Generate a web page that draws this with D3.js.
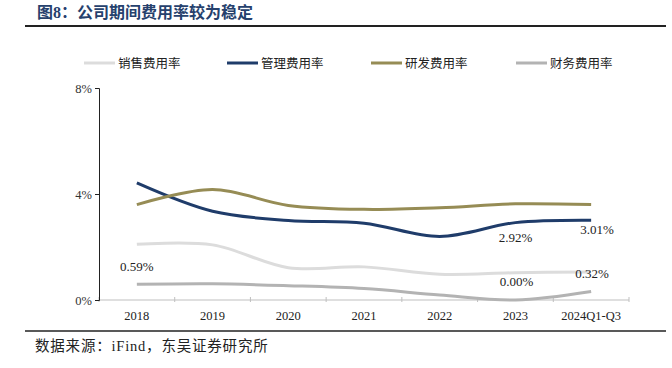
<!DOCTYPE html>
<html>
<head>
<meta charset="utf-8">
<script src="https://cdn.jsdelivr.net/npm/d3@7"></script>
<style>
  body { margin: 0; background: #fff; }
  svg { display: block; }
  text { font-family: "Liberation Serif", "Noto Sans CJK SC", serif; }
</style>
</head>
<body>
<script>
// categories and series (percent)
var years = ["2018", "2019", "2020", "2021", "2022", "2023", "2024Q1-Q3"];
var sales   = [2.10, 2.08, 1.22, 1.25, 0.97, 1.03, 1.06];
var admin   = [4.42, 3.35, 3.00, 2.90, 2.40, 2.92, 3.01];
var rnd     = [3.60, 4.17, 3.57, 3.42, 3.48, 3.63, 3.60];
var finance = [0.59, 0.61, 0.54, 0.43, 0.19, 0.00, 0.32];
var seriesNames = ["销售费用率", "管理费用率", "研发费用率", "财务费用率"];
var yTicks = [0, 4, 8];

var w = 672, h = 368;
var colors = ["#dcdcdc", "#1f3c6a", "#968c55", "#b3b3b3"];

var svg = d3.select("body").append("svg")
  .attr("width", w)
  .attr("height", h);

// title + rules
svg.append("text")
  .attr("x", 37).attr("y", 18)
  .attr("font-size", 16).attr("font-weight", "bold")
  .attr("fill", "#26416d")
  .text("图8：公司期间费用率较为稳定");
svg.append("line")
  .attr("x1", 25).attr("x2", 666).attr("y1", 26).attr("y2", 26)
  .attr("stroke", "#222").attr("stroke-width", 2);
svg.append("line")
  .attr("x1", 25).attr("x2", 666).attr("y1", 331).attr("y2", 331)
  .attr("stroke", "#222").attr("stroke-width", 1.5);
svg.append("text")
  .attr("x", 35).attr("y", 351)
  .attr("font-size", 14.5).attr("fill", "#222")
  .attr("letter-spacing", 0.8)
  .text("数据来源：iFind，东吴证券研究所");

// scales
var x = d3.scaleBand().domain(years).range([99, 629]);
var y = d3.scaleLinear().domain([0, 8]).range([300, 88]);
var cx = function(d, i) { return x(years[i]) + x.bandwidth() / 2; };

// x axis
var gx = svg.append("g").attr("transform", "translate(0,300)");
gx.append("line").attr("x1", 99).attr("x2", 629)
  .attr("stroke", "#bfbfbf");
gx.selectAll(".tk").data(years.concat([null])).enter().append("line")
  .attr("x1", function(d, i) { return i < years.length ? x(d) : 629; })
  .attr("x2", function(d, i) { return i < years.length ? x(d) : 629; })
  .attr("y1", -3).attr("y2", 2)
  .attr("stroke", "#bfbfbf");
gx.selectAll(".lab").data(years).enter().append("text")
  .attr("x", function(d) { return x(d) + x.bandwidth() / 2; })
  .attr("y", 20)
  .attr("text-anchor", "middle")
  .attr("font-size", 12.5).attr("fill", "#222")
  .text(function(d) { return d; });

// y axis
var yAxis = d3.axisLeft(y).tickValues(yTicks).tickSize(4)
  .tickFormat(function(d) { return d + "%"; });
var gy = svg.append("g").attr("transform", "translate(99,0)").call(yAxis);
gy.select(".domain").attr("stroke", "#222");
gy.selectAll(".tick line").attr("stroke", "#222");
gy.selectAll(".tick text")
  .attr("font-family", "Liberation Serif, serif")
  .attr("font-size", 12.5).attr("fill", "#333");

// lines
var line = d3.line()
  .x(cx)
  .y(function(d) { return y(d); })
  .curve(d3.curveCatmullRom.alpha(0.5));

var allSeries = [sales, admin, rnd, finance];
svg.selectAll(".series").data(allSeries).enter().append("path")
  .attr("d", line)
  .attr("fill", "none")
  .attr("stroke", function(d, i) { return colors[i]; })
  .attr("stroke-width", 3);

// data labels
var labels = [
  { s: finance, i: 0, dx: 0, dy: -13 },
  { s: admin, i: 5, dx: 0, dy: 19 },
  { s: admin, i: 6, dx: 6, dy: 14 },
  { s: finance, i: 6, dx: 1, dy: -14 },
  { s: finance, i: 5, dx: 1, dy: -14 }
];
svg.selectAll(".dl").data(labels).enter().append("text")
  .attr("x", function(d) { return cx(null, d.i) + d.dx; })
  .attr("y", function(d) { return y(d.s[d.i]) + d.dy; })
  .attr("text-anchor", "middle")
  .attr("font-size", 13).attr("fill", "#222")
  .text(function(d) { return d.s[d.i].toFixed(2) + "%"; });

// legend
var legX = [84, 227, 371, 516];
var leg = svg.selectAll(".leg").data(seriesNames).enter().append("g")
  .attr("transform", function(d, i) { return "translate(" + legX[i] + ",63)"; });
leg.append("line")
  .attr("x1", 0).attr("x2", 31)
  .attr("stroke", function(d, i) { return colors[i]; })
  .attr("stroke-width", 3);
leg.append("text")
  .attr("x", 34).attr("y", 4.5)
  .attr("font-size", 12.5).attr("fill", "#222")
  .text(function(d) { return d; });
</script>
</body>
</html>
